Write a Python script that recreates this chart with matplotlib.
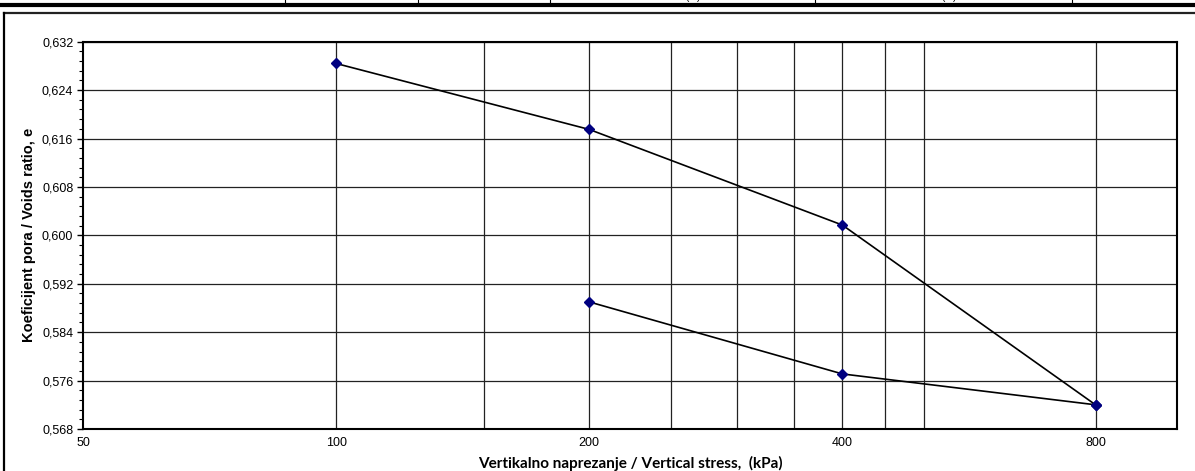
import matplotlib
matplotlib.use("Agg")
import matplotlib.pyplot as plt
from matplotlib.lines import Line2D
from matplotlib.ticker import FixedLocator, FixedFormatter, MultipleLocator, NullLocator, FuncFormatter

plt.rcParams["font.family"] = ["Liberation Sans", "DejaVu Sans"]

# loading branch and unloading branch of the oedometer test
stress_load = [100, 200, 400, 800]
e_load = [0.6284, 0.6175, 0.6017, 0.5720]
stress_unload = [200, 400, 800]
e_unload = [0.5890, 0.5771, 0.5720]

x_ticks = [50, 100, 200, 400, 800]
x_tick_labels = ["50", "100", "200", "400", "800"]
grid_stress = [100, 150, 200, 250, 300, 350, 400, 450, 500, 800]

W, H = 1195, 471
fig = plt.figure(figsize=(W / 100, H / 100), dpi=100)

# frame of the sheet around the chart
fig.add_artist(Line2D([0, 1], [1 - 5 / H, 1 - 5 / H], color="black", lw=3))
fig.add_artist(Line2D([4 / W, 1], [1 - 12.5 / H, 1 - 12.5 / H], color="#222222", lw=1.6))
fig.add_artist(Line2D([4 / W, 4 / W], [0, 1 - 12.5 / H], color="black", lw=1.6))
for xp in [285, 418, 550, 815, 1072]:
    fig.add_artist(Line2D([xp / W, xp / W], [1 - 5 / H, 1], color="black", lw=0.8))
for xp in [693, 949]:
    fig.text(xp / W, 1 - 2 / H, "(%)", fontsize=7, ha="center", va="bottom")

ax = fig.add_axes([83 / W, 1 - 429 / H, (1177 - 83) / W, (429 - 41.7) / H])
ax.set_xscale("log")
ax.set_xlim(50, 1000)
ax.set_ylim(0.568, 0.632)

for xv in grid_stress:
    ax.axvline(xv, color="#222222", lw=0.9, zorder=1)
ax.yaxis.set_major_locator(MultipleLocator(0.008))
ax.yaxis.set_minor_locator(MultipleLocator(0.0016))
ax.grid(axis="y", which="major", color="#222222", lw=0.9, zorder=1)

ax.plot(stress_load, e_load, color="black", lw=1.2, marker="D", ms=5,
        mfc="#000080", mec="#000080", zorder=3)
ax.plot(stress_unload, e_unload, color="black", lw=1.2, marker="D", ms=5,
        mfc="#000080", mec="#000080", zorder=3)

ax.xaxis.set_major_locator(FixedLocator(x_ticks))
ax.xaxis.set_major_formatter(FixedFormatter(x_tick_labels))
ax.xaxis.set_minor_locator(NullLocator())
ax.yaxis.set_major_formatter(FuncFormatter(lambda v, p: f"{v:.3f}".replace(".", ",")))

ax.tick_params(axis="x", length=0, pad=6, labelsize=9)
ax.tick_params(axis="y", which="major", length=4, width=1, direction="out", labelsize=9, pad=3)
ax.tick_params(axis="y", which="minor", length=3, width=0.8, direction="out")

for s in ax.spines.values():
    s.set_linewidth(1.5)
    s.set_color("black")

ax.set_xlabel("Vertikalno naprezanje / Vertical stress,  (kPa)", family="Lato",
              fontweight="bold", fontsize=11, labelpad=5)
ax.set_ylabel("Koeficijent pora / Voids ratio, e", fontweight="bold",
              fontsize=10.5, labelpad=4)

fig.savefig("out.png", dpi=100)
